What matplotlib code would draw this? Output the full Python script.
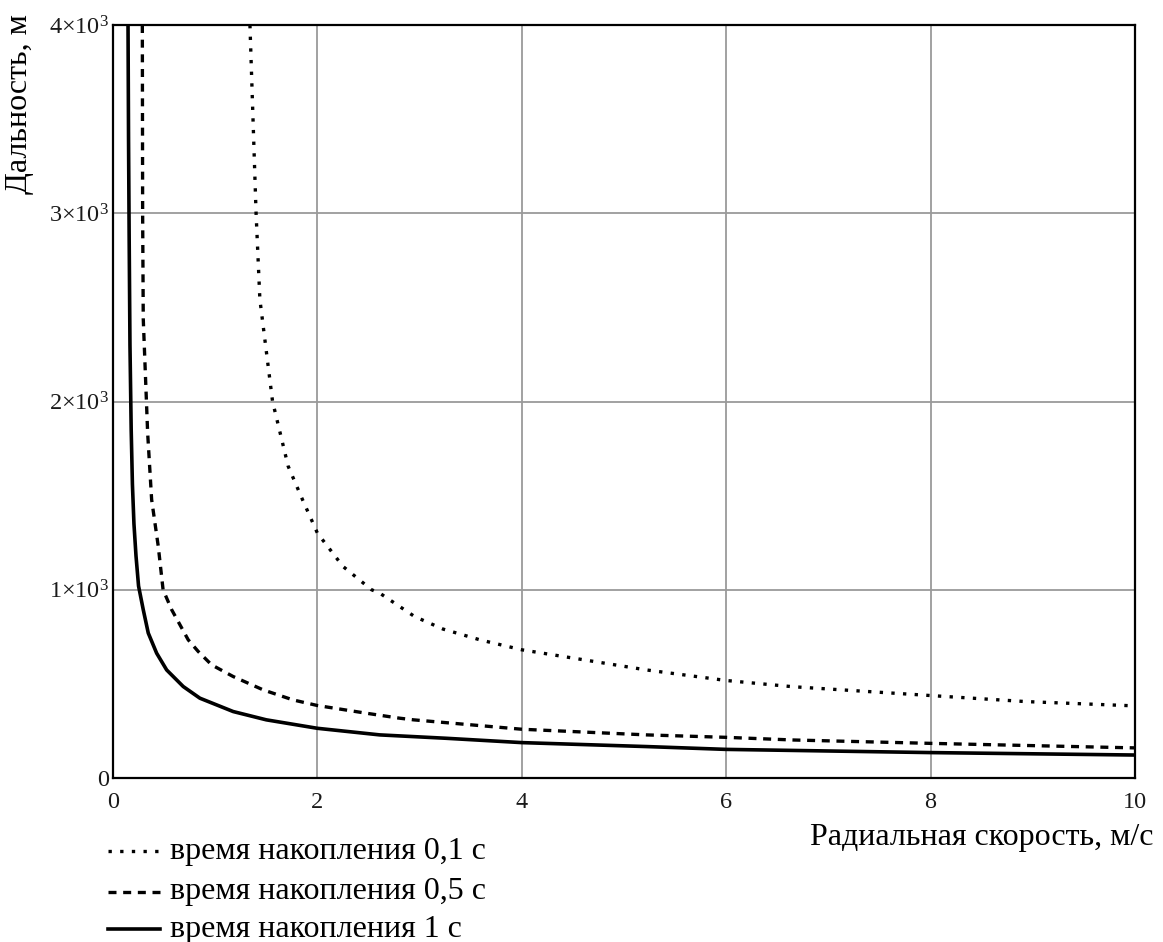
import matplotlib
matplotlib.use('Agg')
import matplotlib.pyplot as plt
from matplotlib.lines import Line2D

plt.rcParams['font.family'] = ['Liberation Serif', 'DejaVu Serif']
plt.rcParams['mathtext.fontset'] = 'custom'
plt.rcParams['mathtext.rm'] = 'Liberation Serif'
plt.rcParams['mathtext.it'] = 'Liberation Serif:italic'

# radial speed, m/s  ->  range, m
v_01 = [1.34, 1.40, 1.437, 1.561, 1.714, 1.854, 2.0, 2.25, 2.53, 2.61, 2.95, 3.23,
        3.59, 4.0, 4.57, 5.22, 6.0, 6.45, 6.65, 8.0, 8.93, 9.91, 10.0]
r_01 = [4000, 3000, 2543, 2001, 1656, 1479, 1301, 1124, 1000, 982, 858, 791,
        734, 681, 631, 574, 518, 495, 485, 438, 406, 385, 383]

v_05 = [0.287, 0.29, 0.296, 0.339, 0.378, 0.443, 0.49, 0.574, 0.655, 0.736, 0.834,
        0.965, 1.176, 1.47, 1.76, 2.0, 2.48, 2.8, 2.94, 4.0, 5.22, 6.0, 6.65, 8.0,
        9.91, 10.0]
r_05 = [4000, 3000, 2440, 1833, 1479, 1230, 1000, 894, 814, 734, 672,
        601, 539, 468, 415, 385, 344, 318, 309, 259, 229, 216, 202, 184,
        161, 160]

v_1 = [0.147, 0.152, 0.158, 0.166, 0.178, 0.19, 0.205, 0.225, 0.25, 0.296, 0.345,
       0.427, 0.525, 0.687, 0.85, 1.176, 1.5, 2.0, 2.61, 3.26, 4.0, 5.22, 6.0,
       8.0, 10.0]
r_1 = [4000, 3400, 2880, 2300, 1850, 1560, 1350, 1180, 1020, 894, 770,
       663, 574, 486, 424, 353, 309, 264, 229, 211, 188, 167, 152,
       135, 122]

labels = ['время накопления 0,1 с', 'время накопления 0,5 с', 'время накопления 1 с']
styles = [dict(color='black', lw=2.4, linestyle=(0, (1, 2.5))),
          dict(color='black', lw=2.4, linestyle=(0, (2.4, 2.0))),
          dict(color='black', lw=2.6, linestyle='-')]

W, H = 1163, 942
fig = plt.figure(figsize=(W / 100, H / 100), dpi=100, facecolor='white')
ax = fig.add_axes([113 / W, 1 - 778 / H, (1135 - 113) / W, (778 - 25) / H])

for v, r, st in zip([v_01, v_05, v_1], [r_01, r_05, r_1], styles):
    ax.plot(v, r, **st)

ax.set_xlim(0, 10)
ax.set_ylim(0, 4000)
ax.set_xticks([0, 2, 4, 6, 8, 10])
ax.set_yticks([0, 1000, 2000, 3000, 4000])
ax.set_yticklabels(['0', r'$\mathregular{1×10^{3}}$', r'$\mathregular{2×10^{3}}$',
                    r'$\mathregular{3×10^{3}}$', r'$\mathregular{4×10^{3}}$'])
ax.tick_params(length=0, labelsize=17.5, colors='#1a1a1a')
ax.tick_params(axis='x', pad=10)
ax.tick_params(axis='y', pad=3)
ax.grid(True, color='#9a9a9a', lw=1.3)
ax.set_axisbelow(True)
for s in ax.spines.values():
    s.set_linewidth(1.6)
    s.set_color('black')

fig.text(20 / W, 1 - 14 / H, 'Дальность, м', rotation=90, ha='center', va='top',
         fontsize=23)
fig.text(1153 / W, 1 - 838 / H, 'Радиальная скорость, м/с', ha='right',
         va='center', fontsize=23)

# legend below the plot
rows = [851, 892, 929]
for y, lab, st in zip(rows, labels, styles):
    yf = 1 - y / H
    fig.add_artist(Line2D([108 / W, 160 / W], [yf, yf], transform=fig.transFigure, **st))
    fig.text(170 / W, yf, lab, ha='left', va='center', fontsize=23)

fig.savefig('out.png', dpi=100)
